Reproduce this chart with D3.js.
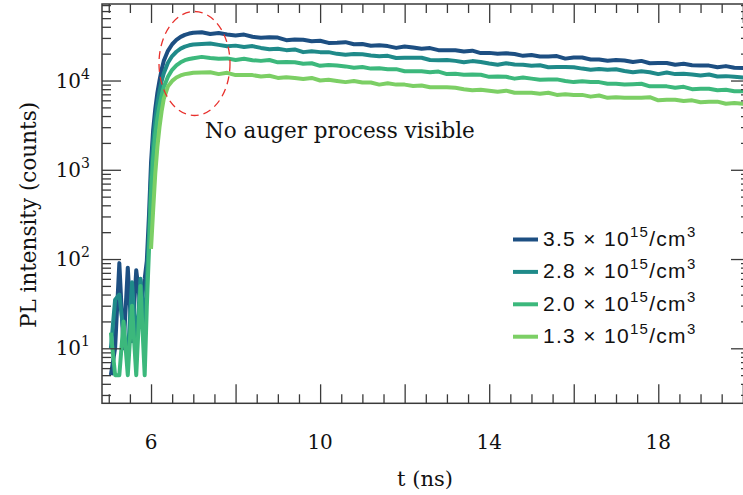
<!DOCTYPE html>
<html><head><meta charset="utf-8">
<script src="https://cdnjs.cloudflare.com/ajax/libs/d3/7.8.5/d3.min.js"></script>
<style>
html,body{margin:0;padding:0;background:#fff;overflow:hidden;}
svg{display:block;}
</style></head>
<body>
<svg id="chart" width="743" height="495"></svg>
<script>
// ---- data ----
const time = [5.05,5.15,5.25,5.35,5.45,5.55,5.65,5.75,5.85,
  5.9,5.95,6.0,6.05,6.1,6.15,6.2,6.25,6.3,6.4,6.5,6.6,6.7,6.8,6.9,7.0,
  7.2,7.4,7.6,7.8,8.0,8.2,8.4,8.6,8.8,9.0,9.2,9.4,9.6,9.8,10.0,10.2,10.4,10.6,10.8,11.0,
  11.2,11.4,11.6,11.8,12.0,12.2,12.4,12.6,12.8,13.0,13.2,13.4,13.6,13.8,14.0,14.2,14.4,14.6,14.8,15.0,
  15.2,15.4,15.6,15.8,16.0,16.2,16.4,16.6,16.8,17.0,17.2,17.4,17.6,17.8,18.0,18.2,18.4,18.6,18.8,19.0,
  19.2,19.4,19.6,19.8,20.0,20.2];
const s35 = [5,10,90,10,80,12,75,30,60,
  95,300,1200,2800,4800,7300,10000,13200,16500,21500,25500,28500,30800,32500,33600,34300,
  34700,33200,34000,32800,32000,32700,30900,30100,30500,30300,28300,28800,28600,27500,27900,26400,26500,26900,25500,25700,
  24500,24900,24300,23200,24100,23500,22700,23100,21900,21900,21800,21100,21600,20300,20400,19900,20200,19800,18900,19300,
  18600,18600,18800,17600,18100,18100,17200,17200,16700,17000,16800,16100,16600,15600,15700,15700,15000,15400,14800,14700,
  14700,14100,14500,13900,13800,13700];
const s28 = [10,35,40,15,8,55,10,60,15,
  60,180,800,2000,3600,5500,7500,9800,12000,15800,18800,21000,22800,24000,24800,25300,
  25600,26000,25100,24200,24600,23800,24300,23200,22400,22700,21900,22300,20800,21300,20800,20800,19900,19500,19800,19700,
  19100,18700,18900,17900,18000,18000,18000,17000,16900,17000,16600,16000,16500,16100,15500,15000,15600,15100,15000,14600,
  14800,14100,14200,14200,14100,13600,13200,13500,13200,13400,12800,12400,12700,12400,11800,12300,11800,11900,11700,11400,
  11700,11100,11200,11000,10800,10700];
const s20 = [15,5,5,20,5,30,5,50,5,
  29,120,550,1350,2500,3800,5200,6800,8400,11000,13200,14800,16000,16900,17400,17800,
  18400,17900,17500,17700,17000,17500,16900,16600,17000,16000,16100,16000,15400,15600,14600,14900,14700,14400,13900,14200,
  13600,13700,13400,13400,12700,12700,12700,12400,12600,11800,11900,11600,11700,11600,11000,11100,11000,10500,10800,10500,
  10200,10300,10300,9900,9600,9800,9600,9600,9200,9200,9000,9100,9200,8600,8600,8600,8300,8500,8000,8100,
  8100,7800,7900,7600,7600,7500];
const s13 = [null,null,null,null,null,null,null,null,null,
  null,null,130,350,900,1800,3000,4500,6200,8600,9900,10800,11400,11800,12000,12200,
  12300,12400,11800,12200,11500,11500,11500,11100,11300,10700,10900,10700,10400,10700,10000,10200,9900,9600,9900,9500,
  9500,9000,9300,9000,9000,8700,8800,8400,8400,8400,8300,8000,7800,7900,7700,7500,7700,7300,7300,7300,
  7100,7300,6900,7000,6900,6900,6600,6800,6400,6500,6400,6400,6400,6500,6000,6100,6100,5900,6000,5700,
  5800,5800,5500,5600,5500,5450];
const seriesNames = ["3.5","2.8","2.0","1.3"];
const seriesValues = [s35, s28, s20, s13];
const seriesColors = ["#1d4f82","#1f8a89","#3cb87c","#7ccf65"];
const xLabelTicks = [6,10,14,18];
const yLabelExps = [1,2,3,4];

// ---- layout ----
const svg = d3.select("#chart");
const L = 102, R = 750, T = 4, B = 403.3;
const x = d3.scaleLinear().domain([4.84, 20.17]).range([L, R]);
const y = d3.scaleLog().domain([2.42, 7.2e4]).range([B, T]);

const serif = "'DejaVu Serif', serif";
const sans = "'Liberation Sans', Arial, sans-serif";

svg.append("defs").append("clipPath").attr("id","clip")
  .append("rect").attr("x",L).attr("y",T).attr("width",R-L).attr("height",B-T);

// lines
const line = d3.line()
  .defined(d => d[1] != null)
  .x(d => x(d[0])).y(d => y(d[1]));
const g = svg.append("g").attr("clip-path","url(#clip)");
seriesValues.forEach((vals, i) => {
  g.append("path")
    .datum(time.map((t, k) => [t, vals[k]]))
    .attr("d", line)
    .attr("fill","none")
    .attr("stroke", seriesColors[i])
    .attr("stroke-width", 4)
    .attr("stroke-linejoin","round");
});

// ticks
const xMinor = d3.range(10, 41).map(k => k/2).filter(v => v % 2 !== 0);
const xMajor = d3.range(6, 21, 2);
const yMajor = yLabelExps.map(e => Math.pow(10, e));
const yMinor = [];
[0,1,2,3,4].forEach(e => { for (let m = 2; m <= 9; m++) { const v = m*Math.pow(10,e); if (v > 2.42 && v < 7.2e4) yMinor.push(v); } });

const axisColor = "#3a3a3a";
function styleAxis(sel){
  sel.select(".domain").remove();
  sel.selectAll(".tick line").attr("stroke", axisColor).attr("stroke-width", 1.3);
  sel.selectAll(".tick text").remove();
}
svg.append("g").attr("transform",`translate(0,${B})`).call(d3.axisBottom(x).tickValues(xMinor).tickSize(-9)).call(styleAxis);
svg.append("g").attr("transform",`translate(0,${B})`).call(d3.axisBottom(x).tickValues(xMajor).tickSize(-19)).call(styleAxis);
svg.append("g").attr("transform",`translate(0,${T})`).call(d3.axisTop(x).tickValues(xMinor).tickSize(-9)).call(styleAxis);
svg.append("g").attr("transform",`translate(0,${T})`).call(d3.axisTop(x).tickValues(xMajor).tickSize(-19)).call(styleAxis);
svg.append("g").attr("transform",`translate(${L},0)`).call(d3.axisLeft(y).tickValues(yMinor).tickSize(-9)).call(styleAxis);
svg.append("g").attr("transform",`translate(${L},0)`).call(d3.axisLeft(y).tickValues(yMajor).tickSize(-19)).call(styleAxis);
svg.append("g").attr("transform",`translate(${R},0)`).call(d3.axisRight(y).tickValues(yMinor).tickSize(-9)).call(styleAxis);
svg.append("g").attr("transform",`translate(${R},0)`).call(d3.axisRight(y).tickValues(yMajor).tickSize(-19)).call(styleAxis);

// frame
svg.append("rect").attr("x",L).attr("y",T).attr("width",R-L).attr("height",B-T)
  .attr("fill","none").attr("stroke",axisColor).attr("stroke-width",1.5);

// x tick labels
svg.append("g").selectAll("text").data(xLabelTicks).join("text")
  .attr("x", d => x(d)).attr("y", 449)
  .attr("text-anchor","middle")
  .attr("font-family", serif).attr("font-size", 20).attr("fill","#111")
  .text(d => d);

// y tick labels
const yl = svg.append("g").selectAll("text").data(yLabelExps).join("text")
  .attr("x", 90).attr("y", d => y(Math.pow(10,d)) + 7)
  .attr("text-anchor","end")
  .attr("font-family", serif).attr("font-size", 20).attr("fill","#111");
yl.append("tspan").text("10");
yl.append("tspan").attr("dy", -9).attr("font-size", 14).text(d => d);

// axis titles
svg.append("text").attr("x", 425).attr("y", 486).attr("text-anchor","middle")
  .attr("font-family", serif).attr("font-size", 21).attr("fill","#111").text("t (ns)");
svg.append("text").attr("transform", `translate(36,215) rotate(-90)`).attr("text-anchor","middle")
  .attr("font-family", serif).attr("font-size", 21.5).attr("fill","#111").text("PL intensity (counts)");

// annotation
svg.append("ellipse").attr("cx",194.5).attr("cy",63.5).attr("rx",35.5).attr("ry",52)
  .attr("fill","none").attr("stroke","#e8302c").attr("stroke-width",1.3).attr("stroke-dasharray","8,5");
svg.append("text").attr("x",205).attr("y",138)
  .attr("font-family", serif).attr("font-size", 21.5).attr("fill","#111").text("No auger process visible");

// legend
const lg = svg.append("g");
seriesNames.forEach((nm, i) => {
  const by = 246 + i*32.4;
  lg.append("line").attr("x1",513).attr("x2",538).attr("y1",by-6.5).attr("y2",by-6.5)
    .attr("stroke", seriesColors[i]).attr("stroke-width",4);
  const t = lg.append("text").attr("x",543).attr("y",by)
    .attr("font-family", sans).attr("font-size",21).attr("letter-spacing",1.3).attr("fill","#111");
  t.append("tspan").text(nm + " \u00d7 10");
  t.append("tspan").attr("dy",-9).attr("font-size",15).text("15");
  t.append("tspan").attr("dy",9).text("/cm");
  t.append("tspan").attr("dy",-9).attr("font-size",15).text("3");
});
</script>
</body></html>
